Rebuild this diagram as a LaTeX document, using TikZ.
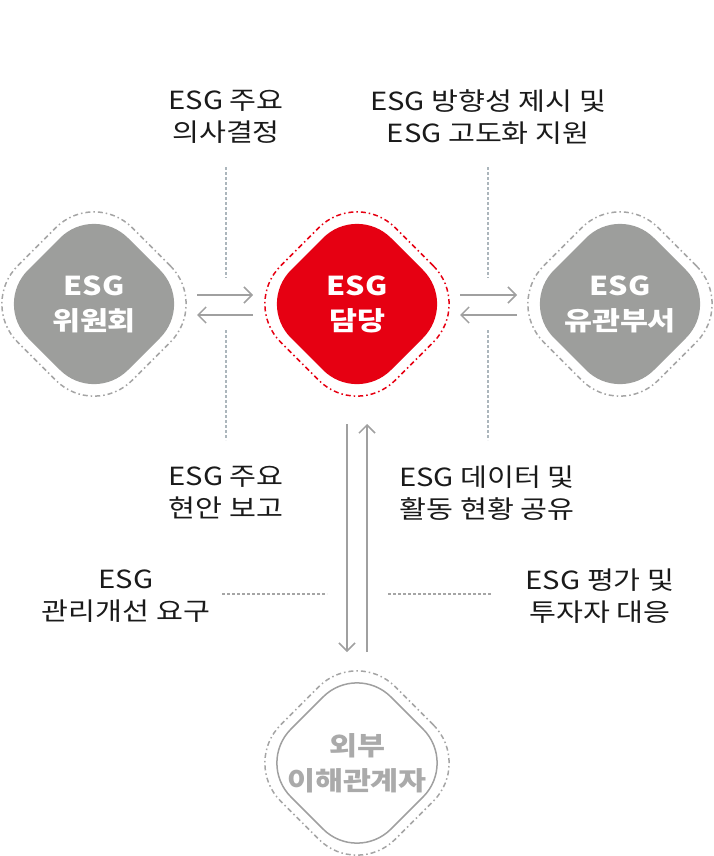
\documentclass[tikz,border=0pt]{standalone}
\usepackage{fontspec}
\setmainfont{Noto Sans CJK KR}
\newfontfamily\widefont{Noto Sans CJK KR}[FakeStretch=1.17]
\usetikzlibrary{shapes.geometric,arrows.meta}

\begin{document}
\begin{tikzpicture}[x=1pt, y=-1pt, >={Straight Barb[length=8pt,width=16pt]},
  rhomb/.style={diamond, minimum size=200pt, inner sep=0pt, outer sep=0pt,
    rounded corners=48pt, align=center, font=\widefont\bfseries\fontsize{26}{35}\selectfont},
  halo/.style={diamond, minimum size=229pt, inner sep=0pt, outer sep=0pt,
    rounded corners=54pt, draw, line width=1.5pt,
    dash pattern=on 5pt off 3pt on 1.5pt off 3pt},
  note/.style={align=center, text=ink, font=\widefont\fontsize{25}{32}\selectfont},
  flow/.style={->, draw=flowgray, line width=1.5pt},
  guide/.style={line width=1.2pt, dash pattern=on 2.5pt off 2.5pt}]

\definecolor{esgred}{RGB}{230,0,18}
\definecolor{esggray}{RGB}{157,158,156}
\definecolor{ringgray}{RGB}{165,165,165}
\definecolor{flowgray}{RGB}{160,160,160}
\definecolor{guideblue}{RGB}{172,182,188}
\definecolor{paletext}{RGB}{170,170,170}
\definecolor{ink}{RGB}{26,26,26}

\useasboundingbox (0,0) rectangle (713,856);

% main blocks
\node[rhomb, fill=esggray, text=white] (board) at (94,304) {ESG\\위원회};
\node[rhomb, fill=esgred, text=white] (desk) at (357,304) {ESG\\담당};
\node[rhomb, fill=esggray, text=white] (dept) at (620,304) {ESG\\유관부서};
\node[rhomb, draw=flowgray, line width=1.5pt, fill=white, text=paletext] (stake) at (357,763) {외부\\이해관계자};

% dashed rings
\node[halo, draw=ringgray] (board-halo) at (board) {};
\node[halo, draw=esgred] (desk-halo) at (desk) {};
\node[halo, draw=ringgray] (dept-halo) at (dept) {};
\node[halo, draw=ringgray] (stake-halo) at (stake) {};

% flows
\draw[flow, shorten <=3pt, shorten >=4pt] ([yshift=9pt]board.east) -- ([yshift=9pt]desk.west);
\draw[flow, shorten <=4pt, shorten >=3pt] ([yshift=-11pt]desk.west) -- ([yshift=-11pt]board.east);
\draw[flow, shorten <=3pt, shorten >=3pt] ([yshift=9pt]desk.east) -- ([yshift=9pt]dept.west);
\draw[flow, shorten <=3pt, shorten >=3pt] ([yshift=-11pt]dept.west) -- ([yshift=-11pt]desk.east);
\draw[flow, shorten <=20pt, shorten >=11pt] ([xshift=-10pt]desk.south) -- ([xshift=-10pt]stake.north);
\draw[flow, shorten <=11pt, shorten >=20pt] ([xshift=10pt]stake.north) -- ([xshift=10pt]desk.south);

% labels
\node[note] (decide) at (226,117) {ESG 주요\\의사결정};
\node[note] (support) at (488,117) {ESG 방향성 제시 및\\ESG 고도화 지원};
\node[note] (report) at (226,493) {ESG 주요\\현안 보고};
\node[note] (share) at (487,493) {ESG 데이터 및\\활동 현황 공유};
\node[note] (demand) at (126,596) {ESG\\관리개선 요구};
\node[note] (invest) at (600,596) {ESG 평가 및\\투자자 대응};

% guide lines
\foreach \x in {226,488}
  \draw[guide, draw=guideblue] (\x,167) -- (\x,278) (\x,330) -- (\x,440);
\draw[guide, draw=ringgray] (222,594) -- (327,594) (388,594) -- (491,594);

\end{tikzpicture}
\end{document}
